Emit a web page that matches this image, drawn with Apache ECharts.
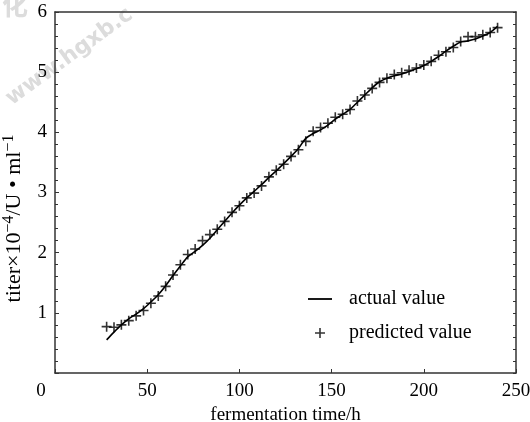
<!DOCTYPE html>
<html>
<head>
<meta charset="utf-8">
<script src="https://cdn.jsdelivr.net/npm/echarts@6/dist/echarts.min.js"></script>
<style>
html, body { margin: 0; padding: 0; background: #fff; }
#main { width: 530px; height: 422px; }
</style>
</head>
<body>
<div id="main"></div>
<script>
// fermentation time (h)
var hours = [28, 32, 36, 40, 44, 48, 52, 56, 60, 64, 68, 72, 76, 80, 84, 88, 92, 96, 100, 104,
    108, 112, 116, 120, 124, 128, 132, 136, 140, 144, 148, 152, 156, 160, 164, 168, 172, 176, 180, 184,
    188, 192, 196, 200, 204, 208, 212, 216, 220, 224, 228, 232, 236, 240];

// titer x10^-4 U/ml
var actualValue = [0.55, 0.68, 0.80, 0.90, 0.98, 1.07, 1.18, 1.30, 1.45, 1.62, 1.78, 1.93, 2.02, 2.12, 2.24, 2.38, 2.52, 2.66, 2.79, 2.91,
    3.02, 3.13, 3.25, 3.36, 3.48, 3.60, 3.73, 3.90, 3.98, 4.04, 4.12, 4.22, 4.30, 4.38, 4.50, 4.62, 4.74, 4.84, 4.90, 4.94,
    4.97, 5.01, 5.06, 5.11, 5.18, 5.26, 5.35, 5.43, 5.50, 5.52, 5.55, 5.60, 5.66, 5.76];

var predictedValue = [0.77, 0.76, 0.80, 0.87, 0.95, 1.04, 1.16, 1.28, 1.44, 1.63, 1.80, 1.97, 2.06, 2.20, 2.30, 2.39, 2.52, 2.67, 2.78, 2.91,
    2.99, 3.11, 3.26, 3.37, 3.47, 3.60, 3.71, 3.85, 4.02, 4.08, 4.15, 4.25, 4.30, 4.38, 4.52, 4.62, 4.73, 4.83, 4.90, 4.96,
    4.99, 5.03, 5.07, 5.12, 5.18, 5.28, 5.34, 5.41, 5.51, 5.59, 5.59, 5.62, 5.66, 5.74];

var seriesNames = ['actual value', 'predicted value'];

var serif = 'Liberation Serif';
var crossPath = 'path://M4.2,0H5.8V4.2H10V5.8H5.8V10H4.2V5.8H0V4.2H4.2Z';
var axisColor = '#333';

function pairs(xs, ys) {
    var out = [];
    for (var i = 0; i < xs.length; i++) {
        out.push([xs[i], ys[i]]);
    }
    return out;
}

var option = {
    backgroundColor: '#fff',
    animation: false,
    textStyle: { fontFamily: serif, color: '#000' },
    graphic: [{
        type: 'text',
        x: 2,
        y: 92,
        rotation: Math.PI * 36 / 180,
        style: {
            text: 'www.hgxb.c',
            fill: '#dcdcdc',
            font: 'bold 22px "DejaVu Sans"'
        }
    }, {
        type: 'text',
        x: 2,
        y: -8,
        style: {
            text: '化',
            fill: '#dcdcdc',
            font: 'bold 26px "Noto Sans CJK SC"'
        }
    }],
    grid: {
        left: 55,
        right: 14,
        top: 12,
        bottom: 49,
        outerBoundsMode: 'none'
    },
    legend: {
        orient: 'vertical',
        left: 303,
        top: 284,
        itemWidth: 24,
        itemHeight: 10,
        itemGap: 14,
        textStyle: { fontFamily: serif, fontSize: 20, color: '#000', padding: [0, 0, 0, 12] },
        data: [
            { name: seriesNames[0], icon: 'path://M0,0H24V1.8H0Z' },
            { name: seriesNames[1], icon: crossPath }
        ]
    },
    xAxis: [{
        type: 'value',
        min: 0,
        max: 250,
        interval: 50,
        name: 'fermentation time/h',
        nameLocation: 'middle',
        nameGap: 23,
        nameTextStyle: { fontFamily: serif, fontSize: 19, color: '#000' },
        axisLine: { onZero: false, lineStyle: { color: axisColor, width: 1.5 } },
        axisTick: { inside: true, length: 4, lineStyle: { color: axisColor } },
        splitLine: { show: false },
        axisLabel: {
            fontFamily: serif,
            fontSize: 19,
            color: '#000',
            margin: 9,
            formatter: function (v) { return v === 0 ? '{z|0}' : String(v); },
            rich: { z: { fontFamily: serif, fontSize: 19, color: '#000', padding: [0, 28, 0, 0] } }
        }
    }, {
        type: 'value',
        position: 'top',
        min: 0,
        max: 250,
        axisLine: { show: true, onZero: false, lineStyle: { color: axisColor, width: 1.5 } },
        axisTick: { show: false },
        axisLabel: { show: false },
        splitLine: { show: false }
    }],
    yAxis: [{
        type: 'value',
        min: 0,
        max: 6,
        interval: 1,
        name: 'titer×10{s|−4}/U • ml{s|−1}',
        nameLocation: 'middle',
        nameGap: 28,
        nameTextStyle: {
            fontFamily: serif,
            fontSize: 22,
            color: '#000',
            padding: [0, 52, 0, 0],
            rich: { s: { fontFamily: serif, fontSize: 16, color: '#000', verticalAlign: 'bottom', padding: [0, 0, 10, 0] } }
        },
        axisLine: { show: true, onZero: false, lineStyle: { color: axisColor, width: 1.5 } },
        axisTick: { inside: true, length: 4, lineStyle: { color: axisColor } },
        minorTick: { show: true, splitNumber: 5, length: 3, lineStyle: { color: axisColor } },
        splitLine: { show: false },
        axisLabel: {
            fontFamily: serif,
            fontSize: 19,
            color: '#000',
            margin: 8,
            formatter: function (v) { return v === 0 ? '' : String(v); }
        }
    }, {
        type: 'value',
        position: 'right',
        min: 0,
        max: 6,
        interval: 0.2,
        axisLine: { show: true, onZero: false, lineStyle: { color: axisColor, width: 1.5 } },
        axisTick: { inside: true, length: 3, lineStyle: { color: axisColor } },
        axisLabel: { show: false },
        splitLine: { show: false }
    }],
    series: [{
        name: seriesNames[0],
        type: 'line',
        xAxisIndex: 0,
        yAxisIndex: 0,
        data: pairs(hours, actualValue),
        symbol: 'none',
        smooth: 0.3,
        lineStyle: { color: '#000', width: 1.6 },
        itemStyle: { color: '#000' }
    }, {
        name: seriesNames[1],
        type: 'scatter',
        xAxisIndex: 0,
        yAxisIndex: 0,
        data: pairs(hours, predictedValue),
        symbol: crossPath,
        symbolSize: 10,
        itemStyle: { color: '#000' }
    }]
};

var myChart = echarts.init(document.getElementById('main'));
myChart.setOption(option);
</script>
</body>
</html>
